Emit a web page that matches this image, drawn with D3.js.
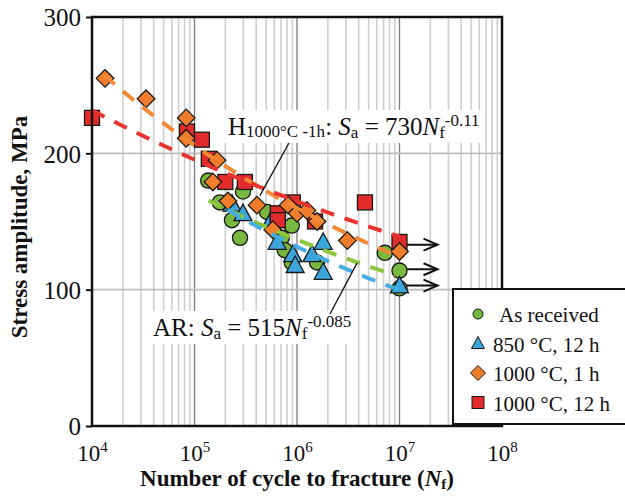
<!DOCTYPE html>
<html><head><meta charset="utf-8">
<script src="https://cdn.jsdelivr.net/npm/d3@7"></script>
<style>
body{margin:0;background:#fff}
svg{display:block}
text{font-family:"Liberation Serif","Times New Roman",serif;fill:#111}
</style>
</head><body>
<svg id="c" width="625" height="496"></svg>
<script>
// ---------------- data ----------------
const seriesNames = ["As received", "850 °C, 12 h", "1000 °C, 1 h", "1000 °C, 12 h"];

const arN  = [1.36e5, 2.97e5, 1.77e5, 2.32e5, 2.78e5, 5.1e5, 8.9e5, 7.1e5, 7.6e5, 8.9e5, 1.57e6, 7.2e6, 1e7, 1e7];
const arS  = [180, 172, 164, 151, 138, 157, 147, 138, 129, 120, 120, 127, 114, 101];

const h850N = [2.32e5, 2.97e5, 5.7e5, 6.4e5, 9.1e5, 9.6e5, 1.4e6, 1.8e6, 1.8e6, 1e7];
const h850S = [162, 155, 151, 134, 125, 117, 125, 134, 112, 102];

const h1000aN = [1.34e4, 3.37e4, 8.3e4, 8.3e4, 1.66e5, 1.51e5, 2.12e5, 4.07e5, 5.8e5, 8.2e5, 1e6, 1.25e6, 1.57e6, 3.1e6, 1e7];
const h1000aS = [255, 240, 226, 211, 195, 179, 165, 162, 144, 162, 156, 158, 150, 136, 128];

const h1000bN = [1e4, 8.45e4, 1.18e5, 1.38e5, 2.0e5, 3.1e5, 6.5e5, 6.5e5, 9.1e5, 1.5e6, 4.6e6, 1e7];
const h1000bS = [226, 216, 210, 196, 179, 179, 156, 151, 164, 150, 164, 135];

// power-law trend lines  Sa = A * Nf^B   (order: AR, 850, 1000-1h, 1000-12h)
const fitA     = [515, 690, 730, 457.5];
const fitB     = [-0.096, -0.12, -0.11, -0.0739];
const fitStart = [1.37e5, 2.1e5, 1.31e4, 1e4];
const fitEnd   = [9e6, 1e7, 1e7, 1e7];

// run-out specimens (arrows) at N = 1e7
const runoutN = [1e7, 1e7, 1e7];
const runoutS = [133, 115, 103];

const yTicks = [0, 100, 200, 300];
const xTickExps = [4, 5, 6, 7, 8];

// ---------------- chart ----------------
const svg = d3.select("#c");
const L = 92, R = 502, T = 17, B = 426;
const x = d3.scaleLog().domain([1e4, 1e8]).range([L, R]);
const y = d3.scaleLinear().domain([0, 300]).range([B, T]);

const markerFill = ["#79b83e", "#3ca6dc", "#ef7d2c", "#e22b2b"];
const lineColor  = ["#8cc63f", "#45ade2", "#f08a35", "#e8332f"];

// grid
const grid = svg.append("g");
const minor = [];
for (let e = 4; e < 8; e++) for (let k = 1; k <= 9; k++) { const v = k * Math.pow(10, e); if (v > 1e4) minor.push({v, major: k === 1}); }
grid.selectAll("line.v").data(minor).join("line")
  .attr("x1", d => x(d.v)).attr("x2", d => x(d.v)).attr("y1", T).attr("y2", B)
  .attr("stroke", d => d.major ? "#7a7a7a" : "#cfcfcf").attr("stroke-width", d => d.major ? 1.3 : 1.6);
grid.selectAll("line.h").data(yTicks.filter(v => v > 0 && v < 300)).join("line")
  .attr("x1", L).attr("x2", R).attr("y1", d => y(d)).attr("y2", d => y(d))
  .attr("stroke", "#bdbdbd").attr("stroke-width", 1.6);

// annotation labels (white boxes)
const ann = svg.append("g");
function eqLabel(g, px, py, parts) {
  const t = g.append("text").attr("x", px).attr("y", py).attr("font-size", 25);
  parts.forEach(p => {
    const ts = t.append("tspan").text(p.t);
    if (p.fs) ts.attr("font-size", p.fs);
    if (p.i) ts.attr("font-style", "italic");
    if (p.dy) ts.attr("dy", p.dy);
  });
  const bb = t.node().getBBox();
  g.insert("rect", "text").attr("x", bb.x - 4).attr("y", bb.y - 1).attr("width", bb.width + 8).attr("height", bb.height + 2).attr("fill", "#fff");
}
const g1 = ann.append("g");
eqLabel(g1, 228, 135, [
  {t: "H"}, {t: "1000°C -1h", fs: 17, dy: 2}, {t: ": ", dy: -2}, {t: "S", i: true},
  {t: "a", fs: 17, dy: 3}, {t: " = 730", dy: -3}, {t: "N", i: true}, {t: "f", fs: 17, dy: 3}, {t: "-0.11", fs: 17, dy: -12}
]);
const g2 = ann.append("g");
eqLabel(g2, 153, 336, [
  {t: "AR: "}, {t: "S", i: true}, {t: "a", fs: 17, dy: 3}, {t: " = 515", dy: -3},
  {t: "N", i: true}, {t: "f", fs: 17, dy: 3}, {t: "-0.085", fs: 17, dy: -12}
]);

// run-out arrows
const arr = svg.append("g").attr("stroke", "#111").attr("stroke-width", 2).attr("fill", "none");
runoutS.forEach((s, i) => {
  const x0 = x(runoutN[i]), yy = y(s), x1 = x0 + 38;
  arr.append("line").attr("x1", x0).attr("x2", x1).attr("y1", yy).attr("y2", yy);
  arr.append("path").attr("d", `M${x1 - 14},${yy - 6}L${x1},${yy}L${x1 - 14},${yy + 6}`);
});

// markers
function pts(N, S) { return N.map((n, i) => ({n, s: S[i]})); }
const mk = svg.append("g").attr("stroke", "#1a1a1a").attr("stroke-width", 1.3);
mk.append("g").selectAll("circle").data(pts(arN, arS)).join("circle")
  .attr("cx", d => x(d.n)).attr("cy", d => y(d.s)).attr("r", 7.6).attr("fill", markerFill[0]);
mk.append("g").selectAll("path").data(pts(h850N, h850S)).join("path")
  .attr("d", "M0,-10.5L9,6L-9,6Z").attr("transform", d => `translate(${x(d.n)},${y(d.s)})`).attr("fill", markerFill[1]);
mk.append("g").selectAll("rect").data(pts(h1000bN, h1000bS)).join("rect")
  .attr("x", d => x(d.n) - 7.5).attr("y", d => y(d.s) - 7.5).attr("width", 15).attr("height", 15).attr("fill", markerFill[3]);
mk.append("g").selectAll("path").data(pts(h1000aN, h1000aS)).join("path")
  .attr("d", "M0,-8.8L8.8,0L0,8.8L-8.8,0Z").attr("transform", d => `translate(${x(d.n)},${y(d.s)})`).attr("fill", markerFill[2]);

// trend lines
const line = d3.line().x(d => x(d[0])).y(d => y(d[1]));
const fits = svg.append("g").attr("fill", "none");
fitA.forEach((a, i) => {
  const l0 = Math.log10(fitStart[i]), l1 = Math.log10(fitEnd[i]);
  const pp = d3.range(0, 41).map(k => { const n = Math.pow(10, l0 + (l1 - l0) * k / 40); return [n, a * Math.pow(n, fitB[i])]; });
  fits.append("path").attr("d", line(pp)).attr("stroke", lineColor[i]).attr("stroke-width", 4)
    .attr("stroke-dasharray", "14,11");
});

// leader lines
const lead = svg.append("g").attr("stroke", "#111").attr("stroke-width", 1.3);
lead.append("line").attr("x1", 289).attr("y1", 143).attr("x2", x(4.35e5)).attr("y2", y(169));
lead.append("line").attr("x1", 330).attr("y1", 314).attr("x2", x(3.85e6)).attr("y2", y(119.5));

// frame
svg.append("rect").attr("x", L).attr("y", T).attr("width", R - L).attr("height", B - T)
  .attr("fill", "none").attr("stroke", "#111").attr("stroke-width", 2.5);

// y axis
const ya = svg.append("g").attr("transform", `translate(${L},0)`)
  .call(d3.axisLeft(y).tickValues(yTicks).tickSize(6).tickPadding(5));
ya.select(".domain").remove();
ya.selectAll(".tick line").attr("stroke", "#111").attr("stroke-width", 2);
ya.selectAll(".tick text").attr("font-size", 25).attr("font-family", "Liberation Serif").attr("fill", "#111").attr("dy", "0.35em");

// x axis
const xa = svg.append("g").attr("transform", `translate(0,${B})`)
  .call(d3.axisBottom(x).tickValues(xTickExps.map(e => Math.pow(10, e))).tickSize(0).tickFormat(""));
xa.select(".domain").remove();
xa.selectAll(".tick").each(function(d, i) {
  const t = d3.select(this).append("text").attr("y", 35).attr("text-anchor", "middle")
    .attr("font-size", 23).attr("font-family", "Liberation Serif").attr("fill", "#111");
  t.append("tspan").text("10");
  t.append("tspan").text(xTickExps[i]).attr("font-size", 15).attr("dy", -9);
});

// axis titles
svg.append("text").attr("transform", "translate(27,227) rotate(-90)").attr("text-anchor", "middle")
  .attr("font-size", 23).attr("font-weight", "bold").text("Stress amplitude, MPa");
const xt = svg.append("text").attr("x", 297).attr("y", 486).attr("text-anchor", "middle")
  .attr("font-size", 23).attr("font-weight", "bold");
xt.append("tspan").text("Number of cycle to fracture (");
xt.append("tspan").text("N").attr("font-style", "italic");
xt.append("tspan").text("f").attr("font-size", 15).attr("dy", 3);
xt.append("tspan").text(")").attr("dy", -3);

// legend
const lg = svg.append("g");
lg.append("rect").attr("x", 453).attr("y", 289).attr("width", 200).attr("height", 135)
  .attr("fill", "#fff").attr("stroke", "#111").attr("stroke-width", 2);
const lshape = [
  g => g.append("circle").attr("r", 5),
  g => g.append("path").attr("d", "M0,-7L6.5,5L-6.5,5Z"),
  g => g.append("path").attr("d", "M0,-7.5L7.5,0L0,7.5L-7.5,0Z"),
  g => g.append("rect").attr("x", -6).attr("y", -6).attr("width", 12).attr("height", 12)
];
[0, 1, 2, 3].forEach((si, k) => {
  const cy = 314 + k * 29.5;
  const g = lg.append("g").attr("transform", `translate(478,${cy})`);
  lshape[si](g).attr("fill", markerFill[si]).attr("stroke", "#1a1a1a").attr("stroke-width", 1);
  lg.append("text").attr("x", si === 0 ? 499 : 493).attr("y", cy + 8).attr("font-size", 21).text(seriesNames[si]);
});
</script>
</body></html>
